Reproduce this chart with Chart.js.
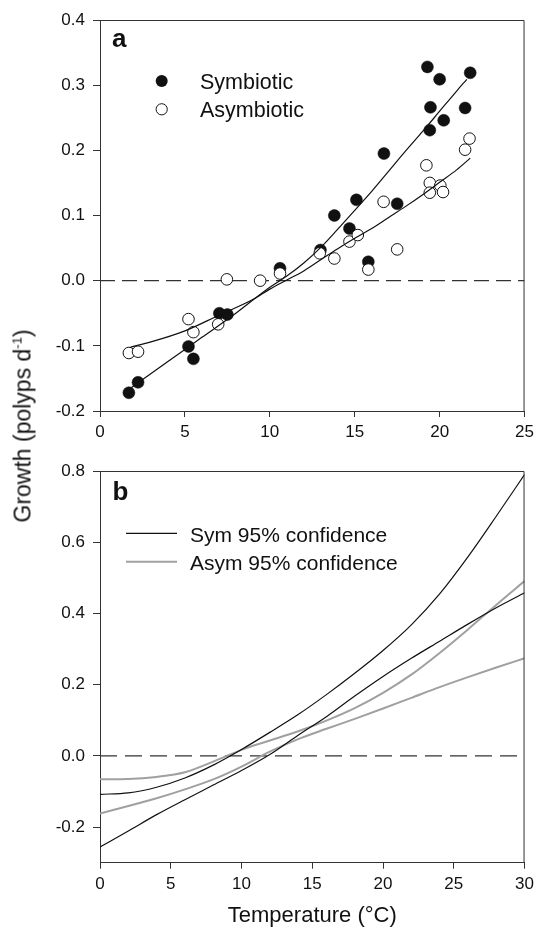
<!DOCTYPE html>
<html>
<head>
<meta charset="utf-8">
<script src="https://cdn.jsdelivr.net/npm/chart.js@4.4.1/dist/chart.umd.min.js"></script>
<style>
  body { margin: 0; background: #fff; width: 539px; height: 929px; overflow: hidden; position: relative;
         font-family: "Liberation Sans", Arial, sans-serif; }
  .wrap { position: absolute; left: 0; width: 539px; }
  #ytitle { position: absolute; left: 23px; top: 426px; transform: translate(-50%, -50%) rotate(-90deg);
            font-size: 23px; white-space: nowrap; color: #111; }
  #ytitle sup { font-size: 13px; }
</style>
</head>
<body>
<div class="wrap" style="top:0;height:450px"><canvas id="chartA" width="539" height="450"></canvas></div>
<div class="wrap" style="top:450px;height:479px"><canvas id="chartB" width="539" height="479"></canvas></div>
<div id="ytitle">Growth (polyps d<sup>-1</sup>)</div>

<script>
// ---- panel a: measured growth ----
var symX  = [1.7, 2.24, 5.21, 5.5, 7.03, 7.5, 10.6, 12.98, 13.8, 14.69, 15.1, 15.8, 16.72, 17.5, 19.28, 19.46, 19.42, 20.0, 20.24, 21.5, 21.8];
var symY  = [-0.172, -0.156, -0.101, -0.120, -0.050, -0.052, 0.019, 0.047, 0.100, 0.080, 0.124, 0.029, 0.195, 0.118, 0.328, 0.266, 0.231, 0.309, 0.246, 0.265, 0.319];
var asymX = [1.7, 2.24, 5.21, 5.5, 6.96, 7.47, 9.43, 10.6, 12.94, 13.8, 14.69, 15.18, 15.8, 16.7, 17.5, 19.22, 19.42, 19.42, 20.04, 20.2, 21.5, 21.76];
var asymY = [-0.111, -0.109, -0.059, -0.079, -0.067, 0.002, 0.0, 0.011, 0.042, 0.034, 0.060, 0.070, 0.017, 0.121, 0.048, 0.177, 0.150, 0.135, 0.146, 0.136, 0.201, 0.218];

// fitted curves
var symFitX  = [1.8, 4, 6, 8, 10, 11, 12, 13, 14, 15, 16, 17, 18, 19, 20, 21, 21.6];
var symFitY  = [-0.165, -0.124, -0.087, -0.050, -0.010, 0.007, 0.027, 0.051, 0.079, 0.108, 0.137, 0.168, 0.199, 0.229, 0.260, 0.291, 0.309];
var asymFitX = [1.8, 3, 5, 7, 9, 10, 11, 12, 13, 14, 15, 16, 17, 18, 19, 20, 21, 21.8];
var asymFitY = [-0.102, -0.094, -0.077, -0.053, -0.029, -0.013, 0.001, 0.015, 0.032, 0.049, 0.065, 0.080, 0.097, 0.114, 0.132, 0.151, 0.170, 0.188];

var xTicksA = [0, 5, 10, 15, 20, 25];
var yTicksA = [-0.2, -0.1, 0.0, 0.1, 0.2, 0.3, 0.4];

// ---- panel b: 95% confidence bands ----
var confX     = [0, 2, 4, 6, 8, 10, 12, 14, 16, 18, 20, 22, 24, 26, 28, 30];
var symUpper  = [-0.108, -0.104, -0.088, -0.062, -0.026, 0.018, 0.066, 0.116, 0.172, 0.232, 0.296, 0.368, 0.455, 0.559, 0.673, 0.790];
var symLower  = [-0.256, -0.211, -0.165, -0.123, -0.082, -0.041, 0.004, 0.058, 0.110, 0.168, 0.223, 0.274, 0.322, 0.370, 0.416, 0.458];
var asymUpper = [-0.066, -0.065, -0.059, -0.046, -0.016, 0.017, 0.043, 0.069, 0.099, 0.134, 0.177, 0.228, 0.289, 0.355, 0.424, 0.491];
var asymLower = [-0.162, -0.141, -0.119, -0.094, -0.066, -0.030, 0.012, 0.047, 0.076, 0.104, 0.133, 0.163, 0.193, 0.221, 0.248, 0.274];

var xTicksB = [0, 5, 10, 15, 20, 25, 30];
var yTicksB = [-0.2, 0.0, 0.2, 0.4, 0.6, 0.8];

function pts(xs, ys) {
    var out = [];
    for (var i = 0; i < xs.length; i++) out.push({x: xs[i], y: ys[i]});
    return out;
}

Chart.defaults.font.family = '"Liberation Sans", Arial, sans-serif';
Chart.defaults.color = '#111';

var AXIS = '#333';
var GRAY = 'rgb(160,160,160)';

// outline on top and right
var boxPlugin = {
    id: 'box',
    afterDraw: function(chart) {
        var c = chart.ctx, a = chart.chartArea;
        c.save();
        c.strokeStyle = AXIS;
        c.lineWidth = 1;
        c.beginPath();
        c.moveTo(a.left, a.top + 0.5);
        c.lineTo(a.right - 0.5, a.top + 0.5);
        c.lineTo(a.right - 0.5, a.bottom);
        c.stroke();
        c.restore();
    }
};

function xScale(min, max, ticks, h) {
    return {
        type: 'linear', min: min, max: max,
        afterBuildTicks: function(s) { s.ticks = ticks.map(function(v) { return {value: v}; }); },
        afterFit: function(s) { s.height = h; },
        ticks: { font: {size: 17}, padding: 5, color: '#111' },
        grid: { drawOnChartArea: false, tickLength: 6, color: AXIS },
        border: { color: AXIS }
    };
}
function yScale(min, max, ticks) {
    return {
        min: min, max: max,
        afterBuildTicks: function(s) { s.ticks = ticks.map(function(v) { return {value: v}; }); },
        afterFit: function(s) { s.width = 100; },
        ticks: { font: {size: 17}, padding: 8, color: '#111',
                 callback: function(v) { return v.toFixed(1); } },
        grid: { drawOnChartArea: false, tickLength: 7, color: AXIS },
        border: { color: AXIS }
    };
}

// ---------- chart a ----------
var legendA = {
    id: 'legendA',
    afterDraw: function(chart) {
        var c = chart.ctx;
        c.save();
        c.fillStyle = '#111';
        c.font = 'bold 26px "Liberation Sans", Arial, sans-serif';
        c.fillText('a', 112, 47);
        c.beginPath(); c.arc(161.7, 81, 6, 0, Math.PI * 2); c.fill();
        c.beginPath(); c.arc(161.7, 109.3, 5.6, 0, Math.PI * 2);
        c.fillStyle = '#fff'; c.fill(); c.strokeStyle = '#111'; c.lineWidth = 1; c.stroke();
        c.fillStyle = '#111';
        c.font = '21.5px "Liberation Sans", Arial, sans-serif';
        c.fillText('Symbiotic', 200, 89);
        c.fillText('Asymbiotic', 200, 117);
        c.restore();
    }
};

new Chart(document.getElementById('chartA'), {
    type: 'scatter',
    data: {
        datasets: [
            { data: pts(symFitX, symFitY), showLine: true, pointRadius: 0, borderColor: '#111',
              borderWidth: 1.2, cubicInterpolationMode: 'monotone', order: 0 },
            { data: pts(asymFitX, asymFitY), showLine: true, pointRadius: 0, borderColor: '#111',
              borderWidth: 1.2, cubicInterpolationMode: 'monotone', order: 0 },
            { data: pts(asymX, asymY), pointRadius: 5.8, pointBackgroundColor: '#fff',
              pointBorderColor: '#111', pointBorderWidth: 1, order: 1 },
            { data: pts(symX, symY), pointRadius: 6, pointBackgroundColor: '#111',
              pointBorderColor: '#111', pointBorderWidth: 0.5, order: 2 },
            { data: pts([0, 25], [0, 0]), showLine: true, pointRadius: 0, borderColor: AXIS,
              borderWidth: 1.2, borderDash: [15, 7], order: 3 }
        ]
    },
    options: {
        responsive: false,
        animation: false,
        layout: { padding: { left: 0, right: 12, top: 20, bottom: 0 } },
        plugins: { legend: { display: false }, tooltip: { enabled: false } },
        scales: { x: xScale(0, 25, xTicksA, 39), y: yScale(-0.2, 0.4, yTicksA) }
    },
    plugins: [boxPlugin, legendA]
});

// ---------- chart b ----------
var legendB = {
    id: 'legendB',
    afterDraw: function(chart) {
        var c = chart.ctx;
        c.save();
        c.fillStyle = '#111';
        c.font = 'bold 26px "Liberation Sans", Arial, sans-serif';
        c.fillText('b', 112.5, 49.5);
        c.strokeStyle = '#111'; c.lineWidth = 1.2;
        c.beginPath(); c.moveTo(126, 83.3); c.lineTo(177, 83.3); c.stroke();
        c.strokeStyle = GRAY; c.lineWidth = 2;
        c.beginPath(); c.moveTo(126, 111.7); c.lineTo(177, 111.7); c.stroke();
        c.font = '21px "Liberation Sans", Arial, sans-serif';
        c.fillText('Sym 95% confidence', 190, 92);
        c.fillText('Asym 95% confidence', 190, 119.5);
        c.restore();
    }
};

var xB = xScale(0, 30, xTicksB, 66.3);
xB.title = { display: true, text: 'Temperature (\u00B0C)', font: {size: 22}, color: '#111', padding: {top: 0, bottom: 0} };

function band(ys, color, w) {
    return { data: pts(confX, ys), showLine: true, pointRadius: 0, borderColor: color,
             borderWidth: w, cubicInterpolationMode: 'monotone' };
}

new Chart(document.getElementById('chartB'), {
    type: 'scatter',
    data: {
        datasets: [
            band(symUpper, '#111', 1.2),
            band(symLower, '#111', 1.2),
            band(asymUpper, GRAY, 2),
            band(asymLower, GRAY, 2),
            { data: pts([0, 30], [0, 0]), showLine: true, pointRadius: 0, borderColor: AXIS,
              borderWidth: 1.2, borderDash: [17, 8] }
        ]
    },
    options: {
        responsive: false,
        animation: false,
        layout: { padding: { left: 0, right: 12, top: 21, bottom: 0 } },
        plugins: { legend: { display: false }, tooltip: { enabled: false } },
        scales: { x: xB, y: yScale(-0.3, 0.8, yTicksB) }
    },
    plugins: [boxPlugin, legendB]
});
</script>
</body>
</html>
